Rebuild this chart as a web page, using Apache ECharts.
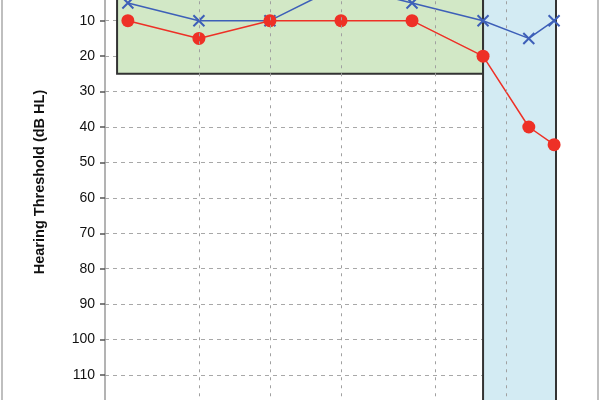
<!DOCTYPE html>
<html>
<head>
<meta charset="utf-8">
<script src="https://cdn.jsdelivr.net/npm/echarts@6/dist/echarts.min.js"></script>
<style>
html,body{margin:0;padding:0;width:600px;height:400px;overflow:hidden;background:#fff;}
#c{position:absolute;left:0;top:-40px;width:600px;height:480px;}
</style>
</head>
<body>
<div id="c"></div>
<script>
// Frequencies (Hz) of the measured points
const freqs = [250, 500, 1000, 2000, 4000, 8000, 12500, 16000];
// Right ear (red circles), dB HL
const rightEar = [10, 15, 10, 10, 10, 20, 40, 45];
// Left ear (blue crosses), dB HL
const leftEar = [5, 10, 10, 0, 5, 10, 15, 10];
// Vertical grid frequencies
const gridFreqs = [500, 1000, 2000, 5000, 10000];
// Shaded regions
const normalRange = { x: [225, 8000], y: [0, 25] };
const extendedHigh = { x: [8000, 16300], y: [0, 120] };
const xRange = [200, 16300];
const yRange = [0, 120];
const yTitle = 'Hearing Threshold (dB HL)';

const chart = echarts.init(document.getElementById('c'), null, { renderer: 'canvas' });

const pts = (vals) => freqs.map((f, i) => [f, vals[i]]);

chart.setOption({
  animation: false,
  grid: { left: 105, right: 44, top: 25.27, bottom: 29.54, containLabel: false },
  xAxis: {
    type: 'log', logBase: 2, min: xRange[0], max: xRange[1],
    axisLine: { show: false }, axisTick: { show: false },
    axisLabel: { show: false }, splitLine: { show: false }
  },
  yAxis: {
    type: 'value', inverse: true, min: yRange[0], max: yRange[1], interval: 10,
    axisLine: { show: true, lineStyle: { color: '#9a9a9a', width: 1.5 } },
    axisTick: { show: true, length: 5, lineStyle: { color: '#555', width: 1.5 } },
    axisLabel: { margin: 10, color: '#111', fontSize: 14, fontFamily: 'Liberation Sans, Arial, sans-serif' },
    splitLine: { show: true, lineStyle: { color: '#a8a8a8', width: 1, type: [4, 4] } }
  },
  graphic: [
    { type: 'line', shape: { x1: 2, y1: 0, x2: 2, y2: 480 }, style: { stroke: '#aaa', lineWidth: 1.5 } },
    { type: 'line', shape: { x1: 598, y1: 0, x2: 598, y2: 480 }, style: { stroke: '#aaa', lineWidth: 1.5 } },
    {
      type: 'text', x: 40, y: 222, rotation: Math.PI / 2,
      style: {
        text: yTitle, fill: '#111', font: 'bold 14.5px "Liberation Sans", Arial, sans-serif',
        align: 'center', verticalAlign: 'middle'
      }
    }
  ],
  series: [
    {
      type: 'line', data: [], z: -1, silent: true,
      markArea: {
        silent: true,
        data: [
          [
            { xAxis: normalRange.x[0], yAxis: normalRange.y[0], itemStyle: { color: '#d2e8c6', borderColor: '#333', borderWidth: 2 } },
            { xAxis: normalRange.x[1], yAxis: normalRange.y[1] }
          ],
          [
            { xAxis: extendedHigh.x[0], yAxis: extendedHigh.y[0], itemStyle: { color: '#d3ebf3', borderColor: '#333', borderWidth: 2 } },
            { xAxis: extendedHigh.x[1], yAxis: extendedHigh.y[1] }
          ]
        ]
      }
    },
    {
      type: 'line', data: [], z: 1, silent: true,
      markLine: {
        silent: true, symbol: 'none', label: { show: false },
        lineStyle: { color: '#a0a0a0', width: 1, type: [3, 5] },
        data: gridFreqs.map(f => ({ xAxis: f }))
      }
    },
    {
      name: 'Left', type: 'line', z: 3, data: pts(leftEar),
      symbol: 'path://M0,0L10,10M10,0L0,10', symbolSize: 11,
      lineStyle: { color: '#3d5fb8', width: 1.5 },
      itemStyle: { color: 'rgba(0,0,0,0)', borderColor: '#3d5fb8', borderWidth: 2 }
    },
    {
      name: 'Right', type: 'line', z: 4, data: pts(rightEar),
      symbol: 'circle', symbolSize: 13,
      lineStyle: { color: '#ee3026', width: 1.5 },
      itemStyle: { color: '#ee3026', borderWidth: 0 }
    }
  ]
});
</script>
</body>
</html>
